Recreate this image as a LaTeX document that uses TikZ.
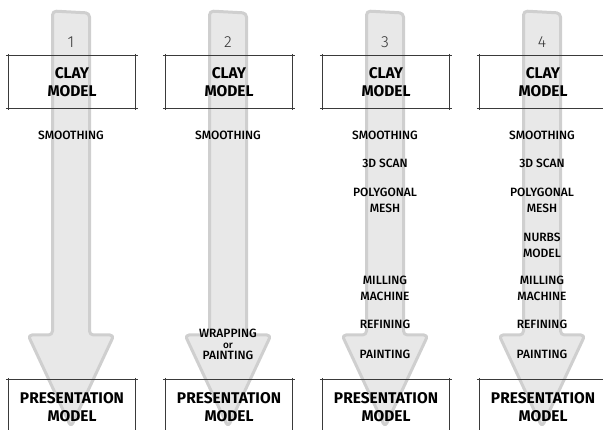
\documentclass[tikz,border=0pt]{standalone}
\usepackage{fontspec}
\setmainfont{Fira Sans}
\newfontfamily\stagefont{Fira Sans Medium}
\newfontfamily\numfont{Fira Sans Light}
\usetikzlibrary{positioning}

\definecolor{flowfill}{HTML}{E8E8E8}
\definecolor{flowline}{HTML}{CFCFCF}
\definecolor{sketchline}{HTML}{3A3A3A}

\tikzset{
  flow/.style={fill=flowfill,draw=flowline,line width=3pt,rounded corners=4pt,line join=round},
  num/.style={font=\numfont\fontsize{16}{16}\selectfont,text=black!80},
  model/.style={minimum width=126pt,minimum height=52pt,inner sep=0pt,align=center,font=\bfseries\fontsize{15.5}{18}\selectfont},
  stage/.style={align=center,inner sep=0pt,font=\stagefont\fontsize{12}{16}\selectfont},
  edge/.style={draw=sketchline,line width=0.8pt},
}

\begin{document}
\begin{tikzpicture}[x=1pt,y=-1pt]
\useasboundingbox (0,0) rectangle (603,430);
\clip (0,0) rectangle (603,430);
\foreach \x [count=\n] in {71,228,385,542} {
  \draw[flow] (\x-18.5,335) -- (\x-18.5,11) -- (\x+18.5,13) -- (\x+18.5,335) -- (\x+43,335) -- (\x,427) -- (\x-43,335) -- cycle;
  \node[num] (N\n) at (\x,42) {\n};
  \node[model] (C\n) at (\x+1,82) {CLAY\\MODEL};
  \draw[edge] ([xshift=-3pt]C\n.north west) -- ([xshift=3pt]C\n.north east);
  \draw[edge] ([xshift=-3pt]C\n.south west) -- ([xshift=3pt]C\n.south east);
  \draw[edge] ([yshift=2pt]C\n.north west) -- ([yshift=-2pt]C\n.south west);
  \draw[edge] ([yshift=2pt]C\n.north east) -- ([yshift=-2pt]C\n.south east);
  \node[model,minimum height=54pt] (P\n) at (\x+1,407) {PRESENTATION\\MODEL};
  \draw[edge] ([xshift=-3pt]P\n.north west) -- ([xshift=3pt]P\n.north east);
  \draw[edge] ([yshift=2pt]P\n.north west) -- (P\n.south west);
  \draw[edge] ([yshift=2pt]P\n.north east) -- (P\n.south east);
  \node[stage] (S\n) at (\x,135) {SMOOTHING};
}
\node[stage,font=\stagefont\fontsize{12}{11}\selectfont] (W2) at (228,344) {WRAPPING\\{\fontsize{10}{11}\selectfont or}\\PAINTING};
\foreach \t/\y [count=\k] in {3D SCAN/163,POLYGONAL\\MESH/200,MILLING\\MACHINE/288,REFINING/324,PAINTING/354}
  \node[stage] (T\k) at (385,\y) {\t};
\foreach \t/\y [count=\k] in {3D SCAN/163,POLYGONAL\\MESH/200,NURBS\\MODEL/245,MILLING\\MACHINE/288,REFINING/324,PAINTING/354}
  \node[stage] (F\k) at (542,\y) {\t};
\end{tikzpicture}
\end{document}
